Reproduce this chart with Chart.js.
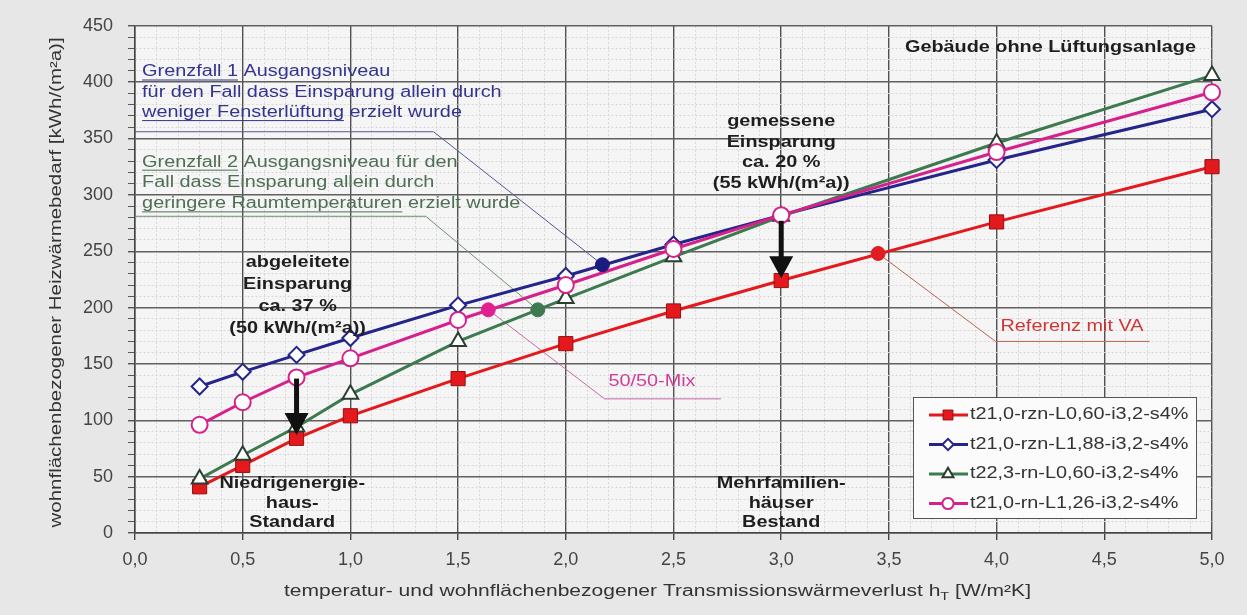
<!DOCTYPE html>
<html>
<head>
<meta charset="utf-8">
<script src="https://cdn.jsdelivr.net/npm/chart.js@4.4.0/dist/chart.umd.min.js"></script>
<style>
  html, body { margin: 0; padding: 0; background: #e7e7e7; }
  #wrap { width: 1247px; height: 615px; }
</style>
</head>
<body>
<div id="wrap"><canvas id="chart"></canvas></div>
<script>
// Messpunkte h_T [W/m²K]
const hT = [0.3, 0.5, 0.75, 1.0, 1.5, 2.0, 2.5, 3.0, 4.0, 5.0];

const seriesNames = [
  't21,0-rzn-L0,60-i3,2-s4%',
  't21,0-rzn-L1,88-i3,2-s4%',
  't22,3-rn-L0,60-i3,2-s4%',
  't21,0-rn-L1,26-i3,2-s4%',
];
const redValues     = [41, 60, 84, 104, 137, 168, 197, 224, 276, 325];
const blueValues    = [130, 143, 158, 173, 202, 228, 256, 282, 331, 376];
const greenValues   = [48, 69, 94, 123, 170, 208, 245, 281, 346, 406];
const magentaValues = [96, 116, 138, 155, 189, 220, 252, 282, 338, 391];

// einzelne Kennpunkte (Referenz mit VA, Grenzfall 1, Grenzfall 2, 50/50-Mix)
const markX = [3.45, 2.17, 1.87, 1.64];
const markY = [248, 238, 198, 198];

// Pfeile: Einsparung
const arrowX = [0.75, 3.0];
const arrowFrom = [137, 277];
const arrowTo = [87, 226];

const xMajor = 0.5;
const yMajor = 50;

const SX = 1.24; // Schrift im Original etwas breiter

function pts(xs, ys) {
  return xs.map((x, i) => ({ x: x, y: ys[i] }));
}

const seriesStyle = [
  { color: '#e3191d', style: 'rect', radius: 10, fill: '#e3191d', border: '#9a0d10', bw: 1 },
  { color: '#24248a', style: 'rectRot', radius: 8, fill: '#ffffff', border: '#24248a', bw: 2 },
  { color: '#3d7a50', style: 'triangle', radius: 9, fill: '#ffffff', border: '#2a3f30', bw: 2 },
  { color: '#d6218c', style: 'circle', radius: 8, fill: '#ffffff', border: '#d6218c', bw: 2 },
];
const seriesValues = [redValues, blueValues, greenValues, magentaValues];
const drawOrder = [4, 3, 2, 1];
const markColors = ['#e01e22', '#1c1c80', '#3d7a50', '#e0208f'];

const datasets = [];
seriesValues.forEach((vals, i) => {
  const s = seriesStyle[i];
  datasets.push({
    label: seriesNames[i],
    data: pts(hT, vals),
    showLine: true,
    clip: false,
    borderColor: s.color,
    borderWidth: 3,
    pointStyle: s.style,
    pointRadius: s.radius,
    pointBackgroundColor: s.fill,
    pointBorderColor: s.border,
    pointBorderWidth: s.bw,
    order: drawOrder[i],
  });
});
markX.forEach((x, i) => {
  datasets.push({
    label: 'mark' + i,
    data: [{ x: x, y: markY[i] }],
    showLine: false,
    pointStyle: 'circle',
    pointRadius: 7,
    pointBackgroundColor: markColors[i],
    pointBorderColor: markColors[i],
    order: 0,
  });
});

function txt(ctx, s, x, y, align) {
  ctx.save();
  ctx.translate(x, y);
  ctx.scale(SX, 1);
  ctx.textAlign = align || 'left';
  ctx.fillText(s, 0, 0);
  ctx.restore();
}
function tw(ctx, s) {
  return ctx.measureText(s).width * SX;
}
function fitText(ctx, s, x, y, width) {
  const k = width / ctx.measureText(s).width;
  ctx.save();
  ctx.translate(x, y);
  ctx.scale(k, 1);
  ctx.textAlign = 'center';
  ctx.fillText(s, 0, 0);
  ctx.restore();
}

const FONT = '"Liberation Sans", Arial, sans-serif';

const paper = {
  id: 'paper',
  beforeDraw(chart) {
    const { ctx, chartArea: a } = chart;
    ctx.save();
    ctx.fillStyle = '#e7e7e7';
    ctx.fillRect(0, 0, chart.width, chart.height);
    ctx.fillStyle = '#f5f5f5';
    ctx.fillRect(a.left, a.top, a.right - a.left, a.bottom - a.top);
    ctx.restore();
  },
  beforeDatasetsDraw(chart) {
    const { ctx, scales: { x, y } } = chart;
    const X = v => x.getPixelForValue(v);
    const Y = v => y.getPixelForValue(v);
    ctx.save();
    ctx.lineWidth = 1;
    // Grenzfall 1
    ctx.strokeStyle = '#55558f';
    ctx.beginPath();
    ctx.moveTo(X(0), Y(356));
    ctx.lineTo(X(1.386), Y(356));
    ctx.lineTo(X(markX[1]), Y(markY[1]));
    ctx.stroke();
    // Grenzfall 2
    ctx.strokeStyle = '#6f8f70';
    ctx.beginPath();
    ctx.moveTo(X(0), Y(281));
    ctx.lineTo(X(1.35), Y(281));
    ctx.lineTo(X(markX[2]), Y(markY[2]));
    ctx.stroke();
    // 50/50-Mix
    ctx.strokeStyle = '#c46aa6';
    ctx.beginPath();
    ctx.moveTo(X(markX[3]), Y(markY[3]));
    ctx.lineTo(X(2.18), Y(119));
    ctx.lineTo(X(2.72), Y(119));
    ctx.stroke();
    // Referenz mit VA
    ctx.strokeStyle = '#b86052';
    ctx.beginPath();
    ctx.moveTo(X(markX[0]), Y(markY[0]));
    ctx.lineTo(X(3.995), Y(170));
    ctx.lineTo(X(4.71), Y(170));
    ctx.stroke();
    ctx.restore();
  },
  afterDatasetsDraw(chart) {
    const { ctx, chartArea: a, scales: { x, y } } = chart;
    const X = v => x.getPixelForValue(v);
    const Y = v => y.getPixelForValue(v);
    ctx.save();
    ctx.textBaseline = 'middle';

    // Pfeile
    ctx.fillStyle = '#111';
    ctx.strokeStyle = '#111';
    arrowX.forEach((ax, i) => {
      const px = X(ax), y0 = Y(arrowFrom[i]), y1 = Y(arrowTo[i]);
      ctx.lineWidth = 5;
      ctx.beginPath();
      ctx.moveTo(px, y0);
      ctx.lineTo(px, y1 - 18);
      ctx.stroke();
      ctx.beginPath();
      ctx.moveTo(px - 12, y1 - 22);
      ctx.lineTo(px + 12, y1 - 22);
      ctx.lineTo(px, y1);
      ctx.closePath();
      ctx.fill();
    });

    // fette Beschriftungen
    ctx.font = 'bold 16px ' + FONT;
    ctx.fillStyle = '#1e1e1e';
    txt(ctx, 'Gebäude ohne Lüftungsanlage', X(4.25), Y(431), 'center');
    ['gemessene', 'Einsparung', 'ca. 20 %', '(55 kWh/(m²a))'].forEach((s, i) =>
      txt(ctx, s, X(3.0), Y([365, 346.5, 329, 310][i]), 'center'));
    ['abgeleitete', 'Einsparung', 'ca. 37 %', '(50 kWh/(m²a))'].forEach((s, i) =>
      txt(ctx, s, X(0.755), Y([239.5, 220, 201, 181.6][i]), 'center'));
    ['Niedrigenergie-', 'haus-', 'Standard'].forEach((s, i) =>
      txt(ctx, s, X(0.73), Y([44, 26.3, 8.8][i]), 'center'));
    ['Mehrfamilien-', 'häuser', 'Bestand'].forEach((s, i) =>
      txt(ctx, s, X(3.0), Y([44, 26.3, 8.8][i]), 'center'));

    // Grenzfälle
    ctx.font = '16px ' + FONT;
    const drawRich = (parts, px, py, color) => {
      let cx = px;
      ctx.fillStyle = color;
      ctx.strokeStyle = color;
      ctx.lineWidth = 1;
      parts.forEach(p => {
        txt(ctx, p[0], cx, py, 'left');
        const w = tw(ctx, p[0]);
        if (p[1]) {
          ctx.beginPath();
          ctx.moveTo(cx, py + 8);
          ctx.lineTo(cx + w, py + 8);
          ctx.stroke();
        }
        cx += w;
      });
    };
    const gx = X(0.033);
    const blueTxt = '#34348e';
    drawRich([['Grenzfall 1', true], [' Ausgangsniveau', false]], gx, Y(409), blueTxt);
    drawRich([['für den Fall dass Einsparung allein durch', false]], gx, Y(391), blueTxt);
    drawRich([['weniger Fensterlüftung', true], [' erzielt wurde', false]], gx, Y(373), blueTxt);
    const greenTxt = '#4f6f55';
    drawRich([['Grenzfall 2', true], [' Ausgangsniveau für den', false]], gx, Y(329), greenTxt);
    drawRich([['Fall dass Einsparung allein durch', false]], gx, Y(310.5), greenTxt);
    drawRich([['geringere Raumtemperaturen', true], [' erzielt wurde', false]], gx, Y(292), greenTxt);

    ctx.fillStyle = '#cf3f98';
    txt(ctx, '50/50-Mix', X(2.40), Y(134), 'center');
    ctx.fillStyle = '#d23434';
    txt(ctx, 'Referenz mit VA', X(4.35), Y(183), 'center');

    // Legende
    const bx = a.right - 299, by = a.bottom - 136, bw = 283, bh = 121;
    ctx.fillStyle = '#fbfbfb';
    ctx.fillRect(bx, by, bw, bh);
    ctx.strokeStyle = '#555';
    ctx.lineWidth = 1;
    ctx.strokeRect(bx + 0.5, by + 0.5, bw, bh);
    ctx.font = '16px ' + FONT;
    seriesNames.forEach((name, i) => {
      const ds = chart.data.datasets[i];
      const ly = by + 18 + i * 29.5;
      ctx.strokeStyle = ds.borderColor;
      ctx.lineWidth = 3;
      ctx.beginPath();
      ctx.moveTo(bx + 16, ly);
      ctx.lineTo(bx + 55, ly);
      ctx.stroke();
      ctx.fillStyle = ds.pointBackgroundColor;
      ctx.strokeStyle = ds.pointBorderColor;
      ctx.lineWidth = ds.pointBorderWidth;
      Chart.helpers.drawPoint(ctx, {
        pointStyle: ds.pointStyle,
        radius: ds.pointRadius * 0.7,
        rotation: 0,
        borderWidth: ds.pointBorderWidth,
      }, bx + 35, ly);
      ctx.fillStyle = '#333';
      txt(ctx, name, bx + 57, ly, 'left');
    });

    // Achsentitel
    ctx.fillStyle = '#333';
    ctx.font = '16px ' + FONT;
    ctx.save();
    ctx.translate(57, (a.top + a.bottom) / 2 + 3);
    ctx.rotate(-Math.PI / 2);
    fitText(ctx, 'wohnflächenbezogener Heizwärmebedarf [kWh/(m²a)]', 0, 0, 490);
    ctx.restore();

    const t1 = 'temperatur- und wohnflächenbezogener Transmissionswärmeverlust h';
    const t2 = ' [W/m²K]';
    const target = 747;
    const raw = ctx.measureText(t1).width + ctx.measureText(t2).width;
    ctx.font = '11px ' + FONT;
    const subW = ctx.measureText('T').width;
    ctx.font = '16px ' + FONT;
    const k = target / (raw + subW);
    let cx = (a.left + a.right) / 2 - 16 - target / 2;
    const ty = 592;
    ctx.save();
    ctx.translate(cx, ty);
    ctx.scale(k, 1);
    ctx.textAlign = 'left';
    ctx.fillText(t1, 0, 0);
    let off = ctx.measureText(t1).width;
    ctx.font = '11px ' + FONT;
    ctx.fillText('T', off, 5);
    off += subW;
    ctx.font = '16px ' + FONT;
    ctx.fillText(t2, off, 0);
    ctx.restore();

    ctx.restore();
  },
};

const isMajorX = v => Math.round(v * 10) % 5 === 0;
const isMajorY = v => Math.round(v) % yMajor === 0;

new Chart(document.getElementById('chart'), {
  type: 'scatter',
  data: { datasets: datasets },
  options: {
    responsive: true,
    maintainAspectRatio: false,
    animation: false,
    layout: { padding: { left: 0, top: 21, right: 35, bottom: 0 } },
    plugins: {
      legend: { display: false },
      tooltip: { enabled: false },
    },
    scales: {
      x: {
        type: 'linear',
        min: 0,
        max: 5,
        afterFit(scale) { scale.height = 82; },
        ticks: {
          stepSize: 0.1,
          autoSkip: false,
          maxRotation: 0,
          minRotation: 0,
          padding: 9,
          color: '#444',
          font: { family: FONT, size: 18 },
          callback: v => (isMajorX(v) ? v.toFixed(1).replace('.', ',') : ''),
        },
        grid: {
          tickLength: 7,
          lineWidth: c => (c.tick && isMajorX(c.tick.value) ? 1.4 : 1),
          color: c => (c.tick && isMajorX(c.tick.value) ? '#505050' : '#d8d8d8'),
          tickColor: c => (c.tick && isMajorX(c.tick.value) ? '#444' : 'rgba(0,0,0,0)'),
        },
        border: {
          color: '#444',
          width: 1.5,
          dash: c => (c.tick && isMajorX(c.tick.value) ? [] : [2, 2]),
        },
      },
      y: {
        min: 0,
        max: 450,
        afterFit(scale) { scale.width = 135; },
        ticks: {
          stepSize: 10,
          autoSkip: false,
          padding: 15,
          color: '#444',
          font: { family: FONT, size: 18 },
          callback: v => (isMajorY(v) ? String(v) : ''),
        },
        grid: {
          tickLength: 7,
          lineWidth: c => (c.tick && isMajorY(c.tick.value) ? 1.4 : 1),
          color: c => (c.tick && isMajorY(c.tick.value) ? '#606060' : '#d8d8d8'),
          tickColor: '#555',
        },
        border: {
          color: '#444',
          width: 1.5,
          dash: c => (c.tick && isMajorY(c.tick.value) ? [] : [2, 2]),
        },
      },
    },
  },
  plugins: [paper],
});
</script>
</body>
</html>
